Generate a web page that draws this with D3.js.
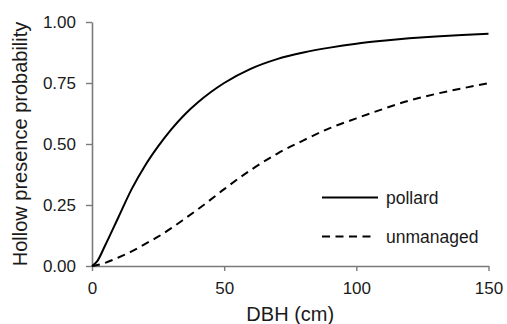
<!DOCTYPE html>
<html>
<head>
<meta charset="utf-8">
<script src="https://cdn.jsdelivr.net/npm/d3@7"></script>
<style>
  html, body { margin: 0; padding: 0; background: #fff; }
  svg { display: block; font-family: "Liberation Sans", Arial, sans-serif; }
</style>
</head>
<body>
<div id="chart"></div>
<script>
// values
const dbh = [0, 2, 5, 10, 15, 20, 25, 30, 35, 40, 45, 50, 60, 70, 80, 90, 100, 110, 120, 130, 140, 150];
const pollard = [0, 0.02, 0.085, 0.2, 0.315, 0.41, 0.49, 0.56, 0.62, 0.67, 0.713, 0.75, 0.808, 0.848, 0.875, 0.895, 0.911, 0.923, 0.933, 0.941, 0.947, 0.952];
const unmanaged = [0, 0.004, 0.013, 0.035, 0.06, 0.09, 0.12, 0.155, 0.193, 0.232, 0.273, 0.315, 0.393, 0.46, 0.515, 0.565, 0.605, 0.643, 0.678, 0.705, 0.728, 0.749];
const seriesNames = ['pollard', 'unmanaged'];
const xTicks = [0, 50, 100, 150];
const yTicks = [0, 0.25, 0.5, 0.75, 1];

const width = 507, height = 324;
const margin = { top: 22, right: 18, bottom: 58, left: 92 };

const svg = d3.select('#chart').append('svg')
  .attr('width', width)
  .attr('height', height);

const x = d3.scaleLinear().domain([0, 150]).range([margin.left, width - margin.right - 0.5]);
const y = d3.scaleLinear().domain([0, 1]).range([height - margin.bottom, margin.top]);

// axes
const xAxis = svg.append('g')
  .attr('transform', 'translate(0,' + y(0) + ')')
  .call(d3.axisBottom(x).tickValues(xTicks).tickSize(5).tickPadding(11).tickSizeOuter(0).tickFormat(d3.format('d')));

const yAxis = svg.append('g')
  .attr('transform', 'translate(' + x(0) + ',0)')
  .call(d3.axisLeft(y).tickValues(yTicks).tickSize(6).tickPadding(10).tickSizeOuter(0).tickFormat(d3.format('.2f')));

[xAxis, yAxis].forEach(a => {
  a.select('.domain').attr('stroke', '#7a7a7a').attr('stroke-width', 1.6);
  a.selectAll('.tick line').attr('stroke', '#7a7a7a').attr('stroke-width', 1.4);
  a.selectAll('.tick text').attr('fill', '#1a1a1a').style('font-size', '17px').style('font-family', '"Liberation Sans", Arial, sans-serif');
});

// axis titles
svg.append('text')
  .attr('x', (x(0) + x(150)) / 2)
  .attr('y', 321)
  .attr('text-anchor', 'middle')
  .style('font-size', '20px')
  .attr('fill', '#1a1a1a')
  .text('DBH (cm)');

svg.append('text')
  .attr('transform', 'translate(27,' + (y(0) + y(1)) / 2 + ') rotate(-90)')
  .attr('text-anchor', 'middle')
  .style('font-size', '20px')
  .attr('fill', '#1a1a1a')
  .text('Hollow presence probability');

// curves
const line = d3.line()
  .x(d => x(d[0]))
  .y(d => y(d[1]))
  .curve(d3.curveMonotoneX);

const series = [
  { name: seriesNames[0], values: pollard, dash: null },
  { name: seriesNames[1], values: unmanaged, dash: '8,5.5' }
];

svg.append('g').selectAll('path')
  .data(series)
  .enter()
  .append('path')
  .attr('d', s => line(dbh.map((d, i) => [d, s.values[i]])))
  .attr('fill', 'none')
  .attr('stroke', '#000')
  .attr('stroke-width', 2)
  .attr('stroke-dasharray', s => s.dash);

// legend
const legend = svg.append('g').attr('transform', 'translate(322,197.5)');
const lg = legend.selectAll('g')
  .data(series)
  .enter()
  .append('g')
  .attr('transform', (d, i) => 'translate(0,' + (i * 39) + ')');

lg.append('line')
  .attr('x1', 0)
  .attr('x2', (d, i) => i ? 53 : 56)
  .attr('y1', 0)
  .attr('y2', 0)
  .attr('stroke', '#000')
  .attr('stroke-width', 2)
  .attr('stroke-dasharray', d => d.dash);

lg.append('text')
  .attr('x', 64)
  .attr('y', 6)
  .style('font-size', '17.5px')
  .attr('fill', '#1a1a1a')
  .text(d => d.name);
</script>
</body>
</html>
